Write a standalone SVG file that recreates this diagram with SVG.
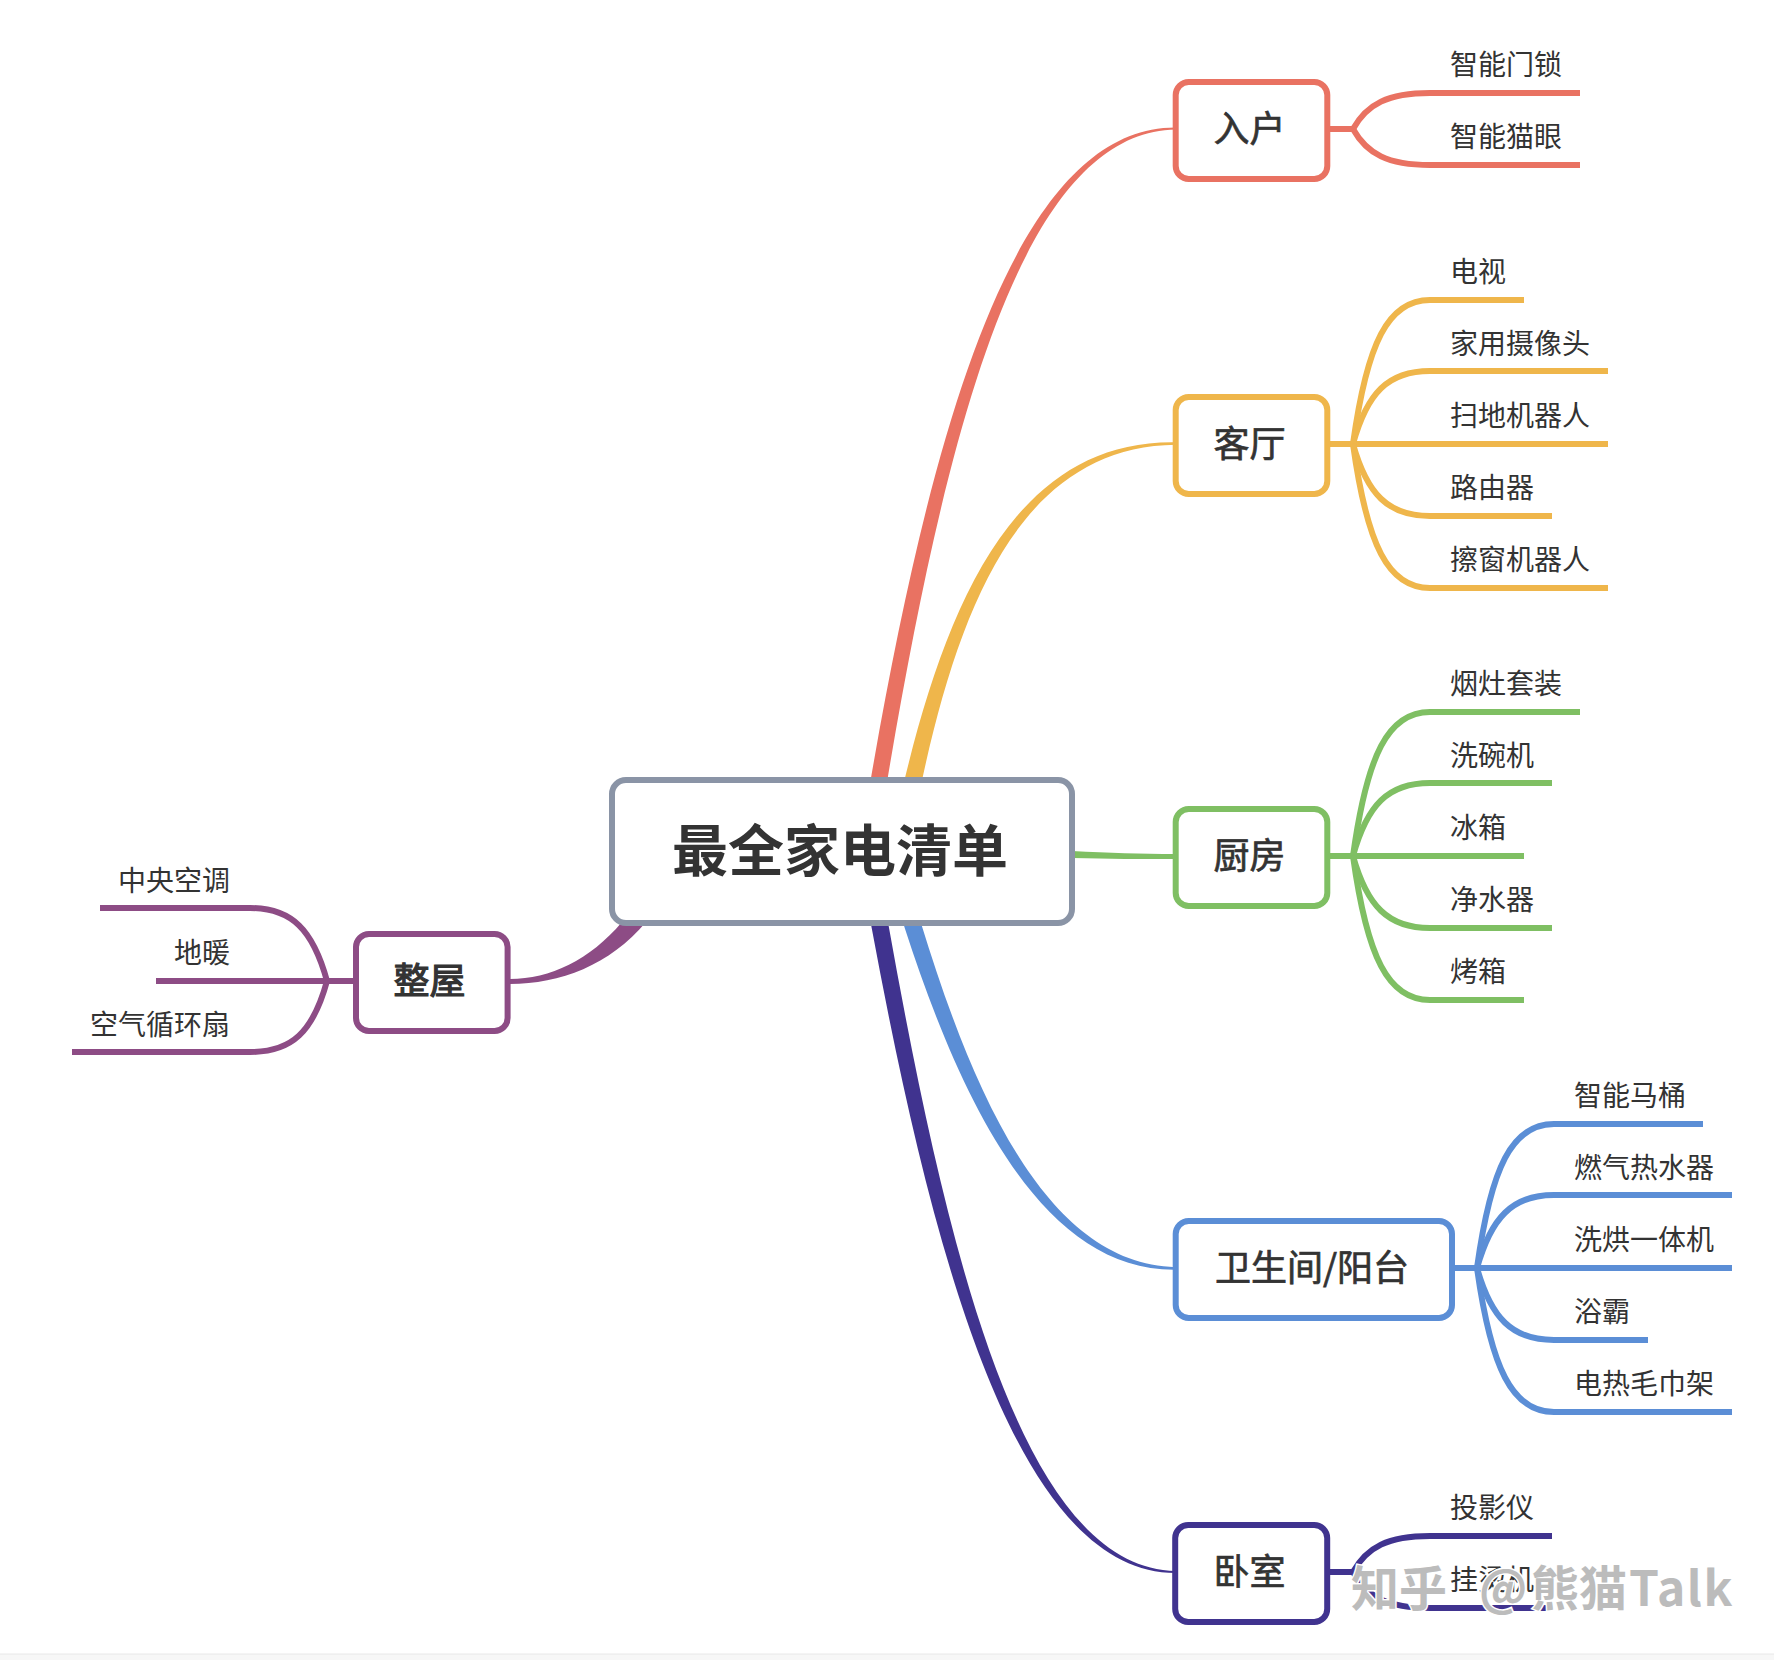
<svg xmlns="http://www.w3.org/2000/svg" width="1774" height="1660" viewBox="0 0 1774 1660">
<style>
text{font-family:"Noto Sans CJK SC","Noto Sans",sans-serif;fill:#333}
.leaf{font-size:28px;font-weight:400}
.left{text-anchor:end}
.topic{font-size:36px;font-weight:400;stroke:#333;stroke-width:.7px}
.root{font-size:56px;font-weight:700}
.box{fill:#fff;stroke-width:6}
.l{fill:none;stroke-width:6}
.r{stroke:#E97262}.y{stroke:#EFB64B}.g{stroke:#7FBF63}.b{stroke:#5B8ED6}.d{stroke:#40338F}.p{stroke:#8D4C85}
.fr{fill:#E97262}.fy{fill:#EFB64B}.fg{fill:#7FBF63}.fb{fill:#5B8ED6}.fd{fill:#40338F}.fp{fill:#8D4C85}
.wm{font-size:48px;font-weight:700;fill:#bcbcbc;stroke:#fff;stroke-width:3px;paint-order:stroke;font-family:"Noto Sans CJK SC","Noto Sans",sans-serif}
</style>
<rect width="1774" height="1660" fill="#fff"/>
<g id="page-edge"><rect x="0" y="1654" width="1774" height="6" fill="#f7f7f7"/><path d="M0 1654H1774" stroke="#e8e8e8" stroke-width="1"/></g>
<g id="connectors">
<path class="fr" d="M869.7 785.6L871.4 775.6C931.7 428.4 1014.8 126.5 1176 127.5V129.5C1021.2 131.5 946.3 431.6 887.6 778.4L885.9 788.4Z"/>
<path class="fy" d="M903.4 784.8L905.7 775.1C949.2 598.2 1017.4 439.4 1176 442.2V444.8C1022.6 446.6 960.8 601.8 922.3 778.9L920 788.6Z"/>
<path class="fg" d="M1072 851C1110 853 1140 854 1176 854V859C1140 859 1110 859 1072 858Z"/>
<path class="fb" d="M901.9 919.1L904.9 928.6C961.5 1102.5 1042.1 1271.5 1176 1269.8V1267.2C1047.9 1264.5 974.5 1097.5 921.1 923.4L918.1 913.9Z"/>
<path class="fd" d="M869.8 917.5L871.6 927.5C931.7 1251.6 1014.8 1573.4 1176 1573V1571C1021.2 1568.6 946.3 1248.4 888.4 924.5L886.6 914.5Z"/>
<path class="fp" d="M622 922C590 960 550 979 510 979V984C560 984 610 965 646 922Z"/>
<g class="l r"><path d="M1330 129H1356"/><path d="M1353 129C1367 104 1388 93 1430 93H1580"/><path d="M1353 129C1367 154 1388 165 1430 165H1580"/></g>
<g class="l y"><path d="M1330 444H1608"/><path d="M1353 444C1367 343 1388 300 1430 300H1524"/><path d="M1353 444C1367 393 1388 371 1430 371H1608"/><path d="M1353 444C1367 494 1388 516 1430 516H1552"/><path d="M1353 444C1367 545 1388 588 1430 588H1608"/></g>
<g class="l g"><path d="M1330 856H1524"/><path d="M1353 856C1367 755 1388 712 1430 712H1580"/><path d="M1353 856C1367 805 1388 783 1430 783H1552"/><path d="M1353 856C1367 906 1388 928 1430 928H1552"/><path d="M1353 856C1367 957 1388 1000 1430 1000H1524"/></g>
<g class="l b"><path d="M1453 1268H1732"/><path d="M1477 1268C1491 1167 1512 1124 1554 1124H1703"/><path d="M1477 1268C1491 1218 1512 1195 1554 1195H1732"/><path d="M1477 1268C1491 1318 1512 1340 1554 1340H1648"/><path d="M1477 1268C1491 1368 1512 1412 1554 1412H1732"/></g>
<g class="l d"><path d="M1330 1572H1356"/><path d="M1353 1572C1367 1547 1388 1536 1430 1536H1552"/><path d="M1353 1572C1367 1597 1388 1608 1430 1608H1552"/></g>
<g class="l p"><path d="M353 981H156"/><path d="M327 981C313 930 292 908 250 908H100"/><path d="M327 981C313 1032 292 1052 250 1052H72"/></g>
</g>
<g id="root"><rect x="612" y="780" width="460" height="143" rx="14" fill="#fff" stroke="#8A94A6" stroke-width="6"/><text class="root" x="672" y="871">最全家电清单</text></g>
<g id="node-ruhu"><rect class="box r" x="1175.7" y="82" width="151.6" height="97" rx="13"/><text class="topic" x="1213.5" y="141.5">入户</text></g>
<g id="node-keting"><rect class="box y" x="1175.7" y="397" width="151.6" height="97" rx="13"/><text class="topic" x="1213.5" y="457">客厅</text></g>
<g id="node-chufang"><rect class="box g" x="1175.7" y="809" width="151.6" height="97" rx="13"/><text class="topic" x="1213.5" y="869">厨房</text></g>
<g id="node-weisheng"><rect class="box b" x="1175.7" y="1221" width="276.3" height="97" rx="13"/><text class="topic" x="1215" y="1281">卫生间/阳台</text></g>
<g id="node-woshi"><rect class="box d" x="1175.2" y="1525" width="152" height="97" rx="13"/><text class="topic" x="1213.5" y="1585">卧室</text></g>
<g id="node-zhengwu"><rect class="box p" x="356" y="934" width="151.6" height="97" rx="13"/><text class="topic" x="393.5" y="994" stroke-width="1" style="stroke-width:1.2px">整屋</text></g>
<g id="leaf-1"><text class="leaf" x="1450" y="75">智能门锁</text></g>
<g id="leaf-2"><text class="leaf" x="1450" y="147">智能猫眼</text></g>
<g id="leaf-3"><text class="leaf" x="1450" y="282">电视</text></g>
<g id="leaf-4"><text class="leaf" x="1450" y="354">家用摄像头</text></g>
<g id="leaf-5"><text class="leaf" x="1450" y="426">扫地机器人</text></g>
<g id="leaf-6"><text class="leaf" x="1450" y="498">路由器</text></g>
<g id="leaf-7"><text class="leaf" x="1450" y="570">擦窗机器人</text></g>
<g id="leaf-8"><text class="leaf" x="1450" y="694">烟灶套装</text></g>
<g id="leaf-9"><text class="leaf" x="1450" y="766">洗碗机</text></g>
<g id="leaf-10"><text class="leaf" x="1450" y="838">冰箱</text></g>
<g id="leaf-11"><text class="leaf" x="1450" y="910">净水器</text></g>
<g id="leaf-12"><text class="leaf" x="1450" y="982">烤箱</text></g>
<g id="leaf-13"><text class="leaf" x="1574" y="1106">智能马桶</text></g>
<g id="leaf-14"><text class="leaf" x="1574" y="1178">燃气热水器</text></g>
<g id="leaf-15"><text class="leaf" x="1574" y="1250">洗烘一体机</text></g>
<g id="leaf-16"><text class="leaf" x="1574" y="1322">浴霸</text></g>
<g id="leaf-17"><text class="leaf" x="1574" y="1394">电热毛巾架</text></g>
<g id="leaf-18"><text class="leaf" x="1450" y="1518">投影仪</text></g>
<g id="leaf-19"><text class="leaf" x="1450" y="1590">挂烫机</text></g>
<g id="leaf-20"><text class="leaf left" x="230" y="891">中央空调</text></g>
<g id="leaf-21"><text class="leaf left" x="230" y="963">地暖</text></g>
<g id="leaf-22"><text class="leaf left" x="230" y="1035">空气循环扇</text></g>
<g id="watermark"><text class="wm" y="1606"><tspan x="1351">知乎</tspan><tspan x="1479">@</tspan><tspan x="1531">熊猫</tspan><tspan x="1629" letter-spacing="1.5">Talk</tspan></text></g>
</svg>
